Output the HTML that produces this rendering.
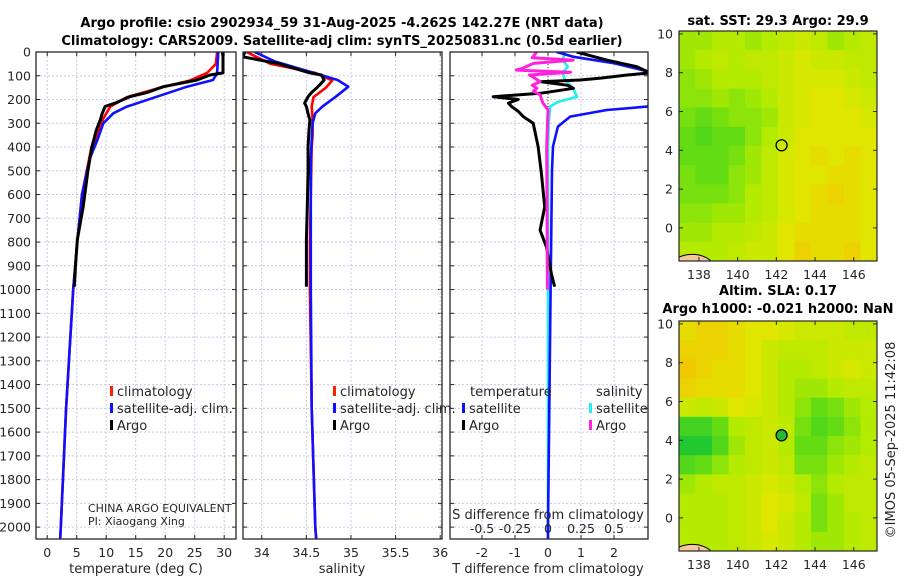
<!DOCTYPE html>
<html><head><meta charset="utf-8"><style>
body{margin:0;background:#fff;width:900px;height:580px;overflow:hidden;font-family:"Liberation Sans","DejaVu Sans",sans-serif}
svg text{font-family:"DejaVu Sans","Liberation Sans",sans-serif;fill:#262626}
</style></head><body>
<svg id="fig" width="900" height="580" viewBox="0 0 900 580" xmlns="http://www.w3.org/2000/svg">
<text x="342" y="27" text-anchor="middle" font-size="13" font-weight="bold" style="fill:#000">Argo profile: csio 2902934_59 31-Aug-2025 -4.262S 142.27E (NRT data)</text>
<text x="342" y="45" text-anchor="middle" font-size="13" font-weight="bold" style="fill:#000">Climatology: CARS2009. Satellite-adj clim: synTS_20250831.nc (0.5d earlier)</text>
<g id="layer"></g>
</svg>
<script>
// ---- data ----
const yTicks=[0,100,200,300,400,500,600,700,800,900,1000,1100,1200,1300,1400,1500,1600,1700,1800,1900,2000];
const tTicks=[0,5,10,15,20,25,30];
const sTicks=[34,34.5,35,35.5,36];
const sTickLabels=["34","34.5","35","35.5","36"];
const dtTicks=[-2,-1,0,1,2];
const dsTicks=[-0.5,-0.25,0,0.25,0.5];
const dsTickLabels=["-0.5","-0.25","0","0.25","0.5"];

const argoDepth=[0,20,50,88,97,118,146,170,188,215,230,260,286,330,398,500,651,790,900,988];
const argoTemp=[29.7,29.8,29.8,29.8,27.6,25.4,19.7,17.0,14.0,11.5,9.8,9.3,9.0,8.3,7.6,6.9,6.1,5.1,4.8,4.6];
const argoSal=[33.81,33.79,34.2,34.54,34.67,34.7,34.63,34.56,34.52,34.48,34.5,34.52,34.54,34.53,34.52,34.52,34.51,34.5,34.5,34.5];

const climDepth=[0,50,88,120,150,190,230,280,350,400,600,800,1000,1500,2000,2050];
const climTemp=[28.8,28.6,27.1,24.2,19.2,13.5,10.7,9.5,8.5,7.5,5.9,5.1,4.4,3.2,2.3,2.2];
const climSal=[33.83,34.1,34.6,34.79,34.72,34.58,34.56,34.57,34.57,34.56,34.55,34.54,34.54,34.56,34.6,34.61];

const satDepth=[0,40,90,118,146,188,230,258,300,370,450,600,800,1000,1500,2000,2050];
const satTemp=[29.0,28.9,28.8,28.1,23.7,18.6,13.5,11.2,9.5,8.5,7.2,5.9,5.1,4.4,3.2,2.3,2.2];
const satSal=[33.92,34.15,34.6,34.85,34.97,34.83,34.68,34.6,34.57,34.56,34.55,34.55,34.55,34.55,34.56,34.6,34.61];

const dtArgoDepth=[0,34,62,88,97,110,118,125,140,153,165,174,188,200,215,230,250,272,300,398,511,651,750,820,932,988];
const dtArgo=[0.87,1.78,2.69,3.1,2.4,1.6,0.97,-0.24,0.6,0.77,0.2,-0.24,-1.66,-0.9,-1.2,-1.1,-0.9,-0.75,-0.45,-0.3,-0.2,-0.1,-0.24,-0.05,0.1,0.2];
const dtSatDepth=[0,20,47,74,88,118,200,230,244,272,314,398,500,1000,2000,2050];
const dtSat=[0.26,0.77,2.0,2.8,3.2,3.5,3.5,3.0,1.78,0.67,0.3,0.15,0.12,0.08,0.0,0.0];
const dsArgoDepth=[0,24,34,48,70,76,85,97,110,125,140,153,165,180,213,244,400,1000];
const dsArgo=[-0.086,-0.12,0.19,-0.11,-0.2,-0.24,0.17,-0.14,-0.1,-0.06,-0.12,-0.085,-0.11,-0.06,-0.04,0,-0.01,-0.005];
const dsSatDepth=[0,34,62,88,118,153,188,210,230,300,400,1000,2000,2050];
const dsSat=[0.13,0.11,0.15,0.11,0.13,0.19,0.22,0.076,0.015,0.005,0,0,0,0];

const mapLat=[10,9,8,7,6,5,4,3,2,1,0,-1];
const mapLon=[137,138,139,140,141,142,143,144,145,146,147];
const sstGrid=[
[.45,.45,.5,.5,.45,.5,.55,.6,.55,.45,.5,.55],
[.45,.5,.55,.5,.55,.55,.6,.65,.6,.6,.55,.55],
[.4,.45,.5,.5,.5,.55,.6,.65,.65,.65,.6,.55],
[.4,.4,.45,.4,.45,.5,.6,.65,.7,.7,.65,.6],
[.35,.3,.35,.4,.4,.45,.6,.65,.7,.7,.7,.65],
[.3,.25,.3,.3,.4,.5,.6,.7,.7,.7,.7,.7],
[.3,.3,.3,.35,.45,.55,.65,.7,.75,.7,.75,.7],
[.35,.3,.3,.4,.45,.55,.65,.7,.7,.75,.75,.7],
[.35,.35,.35,.4,.5,.55,.65,.7,.75,.8,.75,.7],
[.4,.4,.45,.45,.5,.55,.65,.7,.75,.75,.75,.7],
[.45,.45,.5,.5,.55,.6,.7,.75,.75,.75,.75,.7],
[.5,.5,.5,.55,.6,.6,.7,.8,.75,.75,.8,.7]];
const slaGrid=[
[.75,.8,.8,.75,.7,.7,.65,.6,.6,.6,.55,.55],
[.8,.8,.8,.75,.7,.6,.55,.55,.55,.6,.6,.6],
[.85,.8,.75,.75,.7,.6,.5,.5,.55,.6,.65,.6],
[.8,.75,.75,.75,.7,.6,.5,.45,.45,.5,.55,.55],
[.6,.55,.6,.7,.65,.6,.5,.4,.3,.35,.45,.5],
[.2,.2,.3,.5,.55,.6,.55,.35,.25,.3,.4,.5],
[.1,.1,.25,.45,.55,.6,.5,.3,.3,.4,.45,.5],
[.25,.3,.4,.5,.55,.6,.55,.35,.35,.45,.5,.55],
[.45,.5,.55,.55,.6,.65,.6,.5,.4,.5,.55,.55],
[.5,.5,.5,.55,.6,.7,.65,.55,.35,.45,.55,.55],
[.5,.5,.5,.55,.6,.7,.6,.5,.35,.45,.5,.55],
[.5,.5,.5,.55,.6,.65,.6,.5,.45,.45,.5,.55]];
const mapXTicks=[138,140,142,144,146];
const mapYTicks=[0,2,4,6,8,10];
const floatLon=142.27, floatLat=4.26;

// ---- drawing ----
const NS='http://www.w3.org/2000/svg';
const L=document.getElementById('layer');
function mk(tag,attrs,parent){const e=document.createElementNS(NS,tag);for(const k in attrs)e.setAttribute(k,attrs[k]);(parent||L).appendChild(e);return e;}
const TOP=52,BOT=539;
const yD=d=>TOP+d*0.23756;
const panels=[
 {x0:36,x1:236,v0:-1.9,v1:32},
 {x0:243,x1:442,v0:33.79,v1:36.02},
 {x0:450,x1:648,v0:-2.97,v1:3.03}];
const xT=v=>panels[0].x0+(v-panels[0].v0)/(panels[0].v1-panels[0].v0)*200;
const xS=v=>panels[1].x0+(v-panels[1].v0)/(panels[1].v1-panels[1].v0)*199;
const xDT=v=>panels[2].x0+(v-panels[2].v0)/(panels[2].v1-panels[2].v0)*198;
const xDS=v=>xDT(v*4);
const defs=mk('defs',{});
panels.forEach((p,i)=>{const c=mk('clipPath',{id:'clip'+i},defs);mk('rect',{x:p.x0,y:TOP,width:p.x1-p.x0,height:BOT-TOP},c);});

function grid(i,xs){const p=panels[i];
 const g=mk('g',{});
 
 
 yTicks.concat([]).forEach(d=>{if(d>0)mk('line',{x1:p.x0,x2:p.x1,y1:yD(d),y2:yD(d),stroke:'#c9c9e8','stroke-width':1,'stroke-dasharray':'2,2'},g);
  mk('line',{x1:p.x0,x2:p.x0+4,y1:yD(d),y2:yD(d),stroke:'#262626'},g);mk('line',{x1:p.x1-4,x2:p.x1,y1:yD(d),y2:yD(d),stroke:'#262626'},g);});
 xs.forEach(x=>{mk('line',{x1:x,x2:x,y1:TOP,y2:BOT,stroke:'#c9c9e8','stroke-width':1,'stroke-dasharray':'2,2'},g);
  mk('line',{x1:x,x2:x,y1:BOT-4,y2:BOT,stroke:'#262626'},g);mk('line',{x1:x,x2:x,y1:TOP,y2:TOP+4,stroke:'#262626'},g);});
}
function frame(i,name){const p=panels[i];const r=mk('rect',{x:p.x0,y:TOP,width:p.x1-p.x0,height:BOT-TOP,fill:'none',stroke:'#262626','stroke-width':1.3});
 
 }
function line(i,ds,vs,fx,color,name,w){
 const pts=ds.map((d,k)=>fx(vs[k]).toFixed(1)+','+yD(d).toFixed(1)).join(' ');
 const e=mk('polyline',{points:pts,fill:'none',stroke:color,'stroke-width':w||2.6,'stroke-linejoin':'round','clip-path':'url(#clip'+i+')'});
 
 }
function txt(x,y,s,size,anchor,name,extra){const e=mk('text',Object.assign({x:x,y:y,'font-size':size,'text-anchor':anchor||'middle'},extra||{}));e.textContent=s;
 
 return e;}

grid(0,tTicks.map(xT));grid(1,sTicks.map(xS));grid(2,dtTicks.map(xDT));
// zero dotted line panel 3
mk('line',{x1:xDT(0),x2:xDT(0),y1:TOP,y2:yD(300),stroke:'#444','stroke-width':1,'stroke-dasharray':'1,2'});

line(0,climDepth,climTemp,xT,'#ff0000','temp-climatology-line');
line(0,satDepth,satTemp,xT,'#1010ff','temp-satellite-line');
line(0,argoDepth,argoTemp,xT,'#000','temp-argo-line',3);
line(1,climDepth,climSal,xS,'#ff0000','sal-climatology-line');
line(1,satDepth,satSal,xS,'#1010ff','sal-satellite-line');
line(1,argoDepth,argoSal,xS,'#000','sal-argo-line',3);
line(2,dsSatDepth,dsSat,xDS,'#22eeee','ds-satellite-line');
line(2,dtSatDepth,dtSat,xDT,'#1010ff','dt-satellite-line');
line(2,dtArgoDepth,dtArgo,xDT,'#000','dt-argo-line',3);
line(2,dsArgoDepth,dsArgo,xDS,'#ff22dd','ds-argo-line',3);
frame(0,'temperature-panel');frame(1,'salinity-panel');frame(2,'difference-panel');

yTicks.forEach(d=>txt(31,yD(d)+4.5,String(d),12.5,'end','y-tick-label'));
tTicks.forEach(v=>txt(xT(v),557,String(v),12.5,'middle','temp-tick-label'));
sTicks.forEach((v,k)=>txt(xS(v),557,sTickLabels[k],12.5,'middle','sal-tick-label'));
dtTicks.forEach(v=>txt(xDT(v),557,String(v),12.5,'middle','dt-tick-label'));
dsTicks.forEach((v,k)=>txt(xDS(v),533,dsTickLabels[k],12.5,'middle','ds-tick-label'));
txt(136,573,'temperature (deg C)',13,'middle','temp-axis-title');
txt(342,573,'salinity',13,'middle','sal-axis-title');
txt(548,573,'T difference from climatology',13,'middle','dt-axis-title');
txt(548,519,'S difference from climatology',13,'middle','ds-axis-title');
txt(88,512,'CHINA ARGO EQUIVALENT',11,'start','pi-institution');
txt(88,525,'PI: Xiaogang Xing',11,'start','pi-name');

function legend(x,y,color,label,name){mk('rect',{x:x,y:y-10,width:3,height:10,fill:color});txt(x+7,y,label,13,'start',name);}
legend(110,396,'#ff2000','climatology','legend-climatology');
legend(110,413,'#1010ff','satellite-adj. clim.','legend-satellite');
legend(110,430,'#000','Argo','legend-argo');
legend(333,396,'#ff2000','climatology','legend-climatology-2');
legend(333,413,'#1010ff','satellite-adj. clim.','legend-satellite-2');
legend(333,430,'#000','Argo','legend-argo-2');
txt(470,396,'temperature',13,'start','legend-temperature-header');
txt(596,396,'salinity',13,'start','legend-salinity-header');
legend(462,413,'#1010ff','satellite','legend-dt-satellite');
legend(462,430,'#000','Argo','legend-dt-argo');
legend(589,413,'#22eeee','satellite','legend-ds-satellite');
legend(589,430,'#ff22dd','Argo','legend-ds-argo');

// ---- maps ----
const stops=[[0,[0,190,60]],[0.3,[100,220,20]],[0.5,[180,235,0]],[0.7,[225,230,0]],[0.85,[240,200,0]],[1,[245,170,30]]];
function cmap(v){for(let k=1;k<stops.length;k++){if(v<=stops[k][0]){const a=stops[k-1],b=stops[k],t=(v-a[0])/(b[0]-a[0]);return 'rgb('+a[1].map((c,j)=>Math.round(c+(b[1][j]-c)*t)).join(',')+')';}}return 'rgb(245,170,30)';}
function drawMap(top,gridV,name,filled){
 const x0=679,x1=877,bot=top+230,lon0=136.97,lon1=147.2,lat1=10.15,lat0=lat1-230/19.4;
 const mx=lo=>x0+(lo-lon0)/(lon1-lon0)*(x1-x0);
 const my=la=>top+(lat1-la)/(lat1-lat0)*230;
 const g=mk('g',{});
 
 
 const nr=gridV.length,nc=gridV[0].length;
 const cw=(x1-x0)/nc,ch=230/nr;
 gridV.forEach((row,r)=>row.forEach((v,c)=>{mk('rect',{x:x0+c*cw,y:top+r*ch,width:cw+0.5,height:ch+0.5,fill:cmap(v)},g);}));
 // land in corner
 mk('path',{d:`M${x0},${bot} L${x0},${bot-4} Q${x0+10},${bot-8} ${x0+20},${bot-6} Q${x0+28},${bot-4} ${x0+32},${bot} Z`,fill:'#f5c89a',stroke:'#000','stroke-width':1},g);
 mk('rect',{x:x0,y:top,width:x1-x0,height:230,fill:'none',stroke:'#262626','stroke-width':1.2},g);
 mapXTicks.forEach(lo=>{mk('line',{x1:mx(lo),x2:mx(lo),y1:bot,y2:bot-4,stroke:'#262626'},g);mk('line',{x1:mx(lo),x2:mx(lo),y1:top,y2:top+4,stroke:'#262626'},g);
  txt(mx(lo),bot+18,String(lo),12.5,'middle','map-x-tick-label');});
 mapYTicks.forEach(la=>{mk('line',{x1:x0,x2:x0+4,y1:my(la),y2:my(la),stroke:'#262626'},g);mk('line',{x1:x1-4,x2:x1,y1:my(la),y2:my(la),stroke:'#262626'},g);
  txt(x0-6,my(la)+4.5,String(la),12.5,'end','map-y-tick-label');});
 const c=mk('circle',{cx:mx(floatLon),cy:my(floatLat),r:5.5,fill:filled?'#22bb33':'none',stroke:'#000','stroke-width':1.3});
 
 
}
drawMap(31,sstGrid,'sst-map',false);
drawMap(321,slaGrid,'sla-map',true);
txt(778,25,'sat. SST: 29.3 Argo: 29.9',13,'middle','sst-map-title',{'font-weight':'bold',style:'fill:#000'});
txt(778,295,'Altim. SLA: 0.17',13,'middle','sla-map-title',{'font-weight':'bold',style:'fill:#000'});
txt(778,313,'Argo h1000: -0.021 h2000: NaN',13,'middle','sla-map-subtitle',{'font-weight':'bold',style:'fill:#000'});
txt(0,0,'©IMOS 05-Sep-2025 11:42:08',13,'middle','timestamp-credit',{transform:'translate(895,440) rotate(-90)'});
</script>
</body></html>
